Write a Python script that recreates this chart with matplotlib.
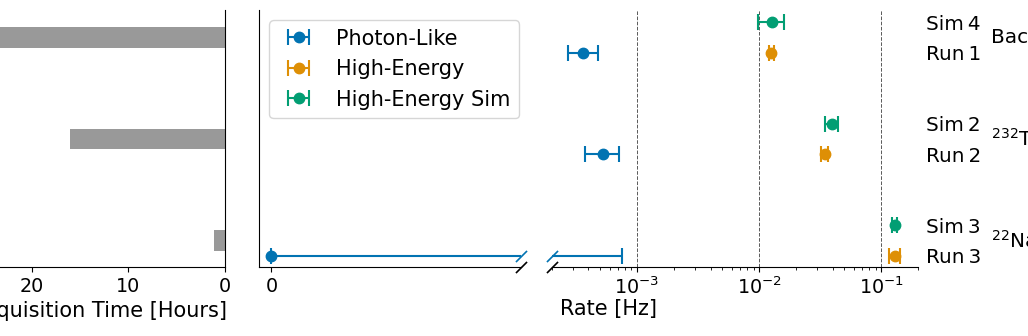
import matplotlib
matplotlib.use('Agg')
import matplotlib.pyplot as plt
import matplotlib.transforms as mtransforms
import numpy as np

# data
groups = ['Background', '$^{232}$Th', '$^{22}$Na']
acq_hours = [25.0, 16.1, 1.1]
sim_labels = ['Sim\u20094', 'Sim\u20092', 'Sim\u20093']
run_labels = ['Run\u20091', 'Run\u20092', 'Run\u20093']

photon_rate = [3.6e-4, 5.23e-4, 0.0]
photon_err_lo = [0.86e-4, 1.45e-4, 0.0]
photon_err_hi = [1.17e-4, 1.82e-4, 7.6e-4]

highE_rate = [0.01256, 0.0343, 0.129]
highE_err = [0.0006, 0.002, 0.0125]

sim_rate = [0.0128, 0.0394, 0.1285]
sim_err = [0.0031, 0.0045, 0.006]

blue, orange, green = '#0173b2', '#de8f05', '#029e73'

plt.rcParams['font.size'] = 15
plt.rcParams['xtick.labelsize'] = 13.8
plt.rcParams['ytick.labelsize'] = 14.4

y_grp = np.array([2.0, 1.0, 0.0])
y_sim = y_grp + 0.15
y_run = y_grp - 0.15
ylim = (-0.26, 2.27)

W, H = 1028, 336
fig = plt.figure(figsize=(W / 100, H / 100), dpi=100)


def px_axes(x0, x1, y_top=10, y_bot=267):
  return fig.add_axes([x0 / W, (H - y_bot) / H, (x1 - x0) / W, (y_bot - y_top) / H])


ax_t = px_axes(-27, 225)
ax_m = px_axes(259, 521)
ax_r = px_axes(551.7, 918)

# acquisition time bars
ax_t.barh(y_grp, acq_hours, height=0.2, color='0.6')
ax_t.set_xlim(26.1, 0)
ax_t.set_ylim(*ylim)
ax_t.set_xticks([20, 10, 0])
ax_t.set_yticks([])
ax_t.spines['top'].set_visible(False)
ax_t.spines['left'].set_visible(False)
ax_t.set_xlabel('Acquisition Time [Hours]')

eb = dict(fmt='o', markersize=7.5, elinewidth=1.5, capsize=5.5, capthick=1.5)

for ax in (ax_m, ax_r):
  ax.errorbar(photon_rate, y_run, xerr=[photon_err_lo, photon_err_hi], color=blue,
              label='Photon-Like', **eb)
  ax.errorbar(highE_rate, y_run, xerr=highE_err, color=orange, label='High-Energy', **eb)
  ax.errorbar(sim_rate, y_sim, xerr=sim_err, color=green, label='High-Energy Sim', **eb)
  ax.set_ylim(*ylim)
  ax.spines['top'].set_visible(False)
  ax.spines['right'].set_visible(False)

# linear part around zero
ax_m.set_xlim(-1e-5, 2e-4)
ax_m.set_xticks([0])
ax_m.set_xticklabels(['0'])
ax_m.set_yticks([])
ax_m.legend(loc='upper left')

# log part
ax_r.set_xscale('log')
ax_r.set_xlim(2e-4, 0.2)
ax_r.spines['left'].set_visible(False)
for v in [1e-3, 1e-2, 1e-1]:
  ax_r.axvline(v, color='0.35', ls='--', lw=0.7, zorder=0)
ax_r.set_yticks(np.concatenate([y_sim, y_run]))
ax_r.set_yticklabels(sim_labels + run_labels)
ax_r.tick_params(axis='y', left=False, labelleft=False, right=False, labelright=True,
                 length=0, pad=5.5)

tr = mtransforms.blended_transform_factory(ax_r.transAxes, ax_r.transData)
for y, g in zip(y_grp, groups):
  ax_r.text(1.2, y, g, transform=tr, va='center', ha='left', fontsize=14.4)

# axis break marks
brk = dict(marker=[(-1, -1), (1, 1)], markersize=8, linestyle='none', mew=1.2, clip_on=False)
ax_m.plot([1], [0], transform=ax_m.transAxes, color='k', mec='k', **brk)
ax_r.plot([0], [0], transform=ax_r.transAxes, color='k', mec='k', **brk)
tm = mtransforms.blended_transform_factory(ax_m.transAxes, ax_m.transData)
ax_m.plot([1], [y_run[2]], transform=tm, color=blue, mec=blue, **brk)
ax_r.plot([0], [y_run[2]], transform=tr, color=blue, mec=blue, **brk)

fig.text(608.7 / W, 27 / H, 'Rate [Hz]', ha='center', va='center')

fig.savefig('out.png', dpi=100)
